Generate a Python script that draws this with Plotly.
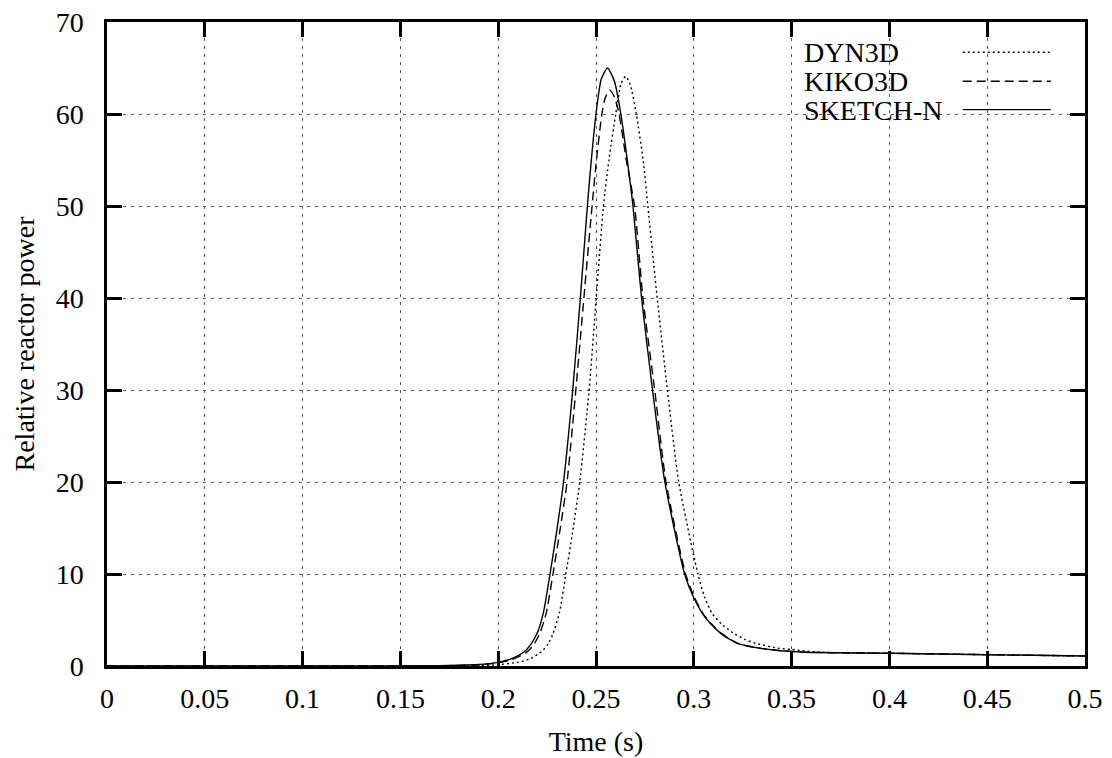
import plotly.graph_objects as go

# ---- data ----
t_sketch = [0, 0.1, 0.15, 0.17, 0.18, 0.19, 0.2, 0.2063, 0.213, 0.2165, 0.2199, 0.2231, 0.2265,
            0.2298, 0.2334, 0.2381, 0.2420, 0.2456, 0.2474, 0.2500, 0.2527, 0.2559, 0.2595,
            0.2627, 0.2663, 0.2689, 0.2733, 0.2789, 0.2852, 0.2953, 0.2998, 0.3044, 0.3090,
            0.3138, 0.3180, 0.3223, 0.3280, 0.3343, 0.3420, 0.35, 0.364, 0.4, 0.45, 0.5]
v_sketch = [0, 0, 0.01, 0.04, 0.08, 0.16, 0.4, 0.75, 1.5, 2.3, 3.55, 5.8, 10,
            14.5, 20, 30, 40, 50, 54.5, 60, 63.8, 65, 63.5,
            60, 54.5, 50, 40, 30, 20, 10, 7.5, 5.7, 4.5,
            3.55, 2.95, 2.47, 2.15, 1.92, 1.72, 1.58, 1.46, 1.38, 1.23, 1.09]

t_kiko = [0, 0.1, 0.15, 0.17, 0.18, 0.19, 0.2, 0.207, 0.214, 0.2178, 0.2213, 0.2246, 0.2280,
          0.2314, 0.2352, 0.2397, 0.2438, 0.2480, 0.2500, 0.2530, 0.2548, 0.2571, 0.2595,
          0.2618, 0.2655, 0.2697, 0.2740, 0.2800, 0.2858, 0.2958, 0.3002, 0.3047, 0.3093,
          0.3140, 0.3182, 0.3225, 0.3282, 0.3345, 0.3420, 0.35, 0.364, 0.4, 0.45, 0.5]
v_kiko = [0, 0, 0.008, 0.03, 0.06, 0.13, 0.35, 0.7, 1.4, 2.2, 3.55, 5.8, 10,
          14.5, 20, 30, 40, 50, 54.5, 60, 61.8, 62.6, 61.8,
          60, 55, 50, 40, 30, 20, 10, 7.5, 5.7, 4.5,
          3.55, 2.95, 2.47, 2.15, 1.92, 1.72, 1.58, 1.46, 1.38, 1.23, 1.09]

t_dyn = [0, 0.1, 0.17, 0.19, 0.2, 0.21, 0.2166, 0.2224, 0.2255, 0.2281, 0.2314, 0.2346, 0.2380,
         0.2417, 0.2465, 0.2501, 0.2538, 0.2566, 0.2601, 0.2628, 0.2651, 0.2675, 0.2706,
         0.2741, 0.2765, 0.2813, 0.2865, 0.2923, 0.3021, 0.3055, 0.3094, 0.3150, 0.3205,
         0.3260, 0.3316, 0.3427, 0.35, 0.364, 0.4, 0.45, 0.5]
v_dyn = [0, 0, 0.01, 0.05, 0.15, 0.4, 0.8, 1.6, 2.4, 3.55, 5.9, 10, 14.5,
         20, 30, 40, 50, 55, 60, 63.3, 64.1, 63.2, 60,
         55, 50, 40, 30, 20, 10, 7.5, 5.7, 4.4, 3.55,
         2.9, 2.47, 1.95, 1.8, 1.5, 1.39, 1.23, 1.09]

series_names = ["DYN3D", "KIKO3D", "SKETCH-N"]
series_t = [t_dyn, t_kiko, t_sketch]
series_v = [v_dyn, v_kiko, v_sketch]
series_dash = ["2px,3px", "9px,5px", "solid"]

x_ticks = [0, 0.05, 0.1, 0.15, 0.2, 0.25, 0.3, 0.35, 0.4, 0.45, 0.5]
x_labels = ["0", "0.05", "0.1", "0.15", "0.2", "0.25", "0.3", "0.35", "0.4", "0.45", "0.5"]
y_ticks = [0, 10, 20, 30, 40, 50, 60, 70]

FONT = "Liberation Serif, Times New Roman, serif"
FS = 28

fig = go.Figure()
for name, tt, vv, dash in zip(series_names, series_t, series_v, series_dash):
    fig.add_trace(go.Scatter(
        x=tt, y=vv, name=name, mode="lines",
        line=dict(color="black", width=1.4, dash=dash, shape="spline", smoothing=0.6),
        showlegend=False,
    ))

axis_common = dict(
    showline=True, linecolor="black", linewidth=2.5, mirror="ticks",
    ticks="inside", ticklen=15, tickwidth=2.5, tickcolor="black",
    showgrid=True, gridcolor="#555555", gridwidth=1, griddash="3px,5px",
    zeroline=False, ticklabeloverflow="allow", automargin=False,
    tickfont=dict(family=FONT, size=FS, color="black"),
)

fig.update_xaxes(range=[0, 0.5], tickvals=x_ticks, ticktext=x_labels,
                 title=dict(text="Time (s)", font=dict(family=FONT, size=FS, color="black"), standoff=19),
                 ticklabelstandoff=6,
                 **axis_common)
fig.update_yaxes(range=[0, 70], tickvals=y_ticks,
                 title=dict(text="Relative reactor power", font=dict(family=FONT, size=FS, color="black"), standoff=13),
                 ticklabelstandoff=15,
                 **axis_common)

# legend (gnuplot style: label on the left, line sample on the right)
fig.add_shape(type="rect", xref="paper", yref="paper", x0=0.709, x1=0.985, y0=0.840, y1=0.996,
              fillcolor="white", line=dict(width=0), layer="between")
row_y = [0.953, 0.908, 0.864]
for name, dash, yy in zip(series_names, series_dash, row_y):
    fig.add_annotation(text=name, xref="paper", yref="paper", x=0.712, y=yy,
                       xanchor="left", yanchor="middle", showarrow=False,
                       height=26, borderpad=0,
                       font=dict(family=FONT, size=FS, color="black"))
    fig.add_shape(type="line", xref="paper", yref="paper", x0=0.875, x1=0.965, y0=yy, y1=yy,
                  line=dict(color="black", width=1.4, dash=dash), layer="above")

fig.update_layout(
    width=1112, height=758,
    margin=dict(l=107, r=27, t=22, b=92, autoexpand=False),
    paper_bgcolor="white", plot_bgcolor="white",
    font=dict(family=FONT, size=FS, color="black"),
)

# remove the default 8px page margin so the figure fills the window exactly
fig.write_html("out.html", config={"displayModeBar": False},
               post_script="document.body.style.margin='0';document.body.style.overflow='hidden';")
